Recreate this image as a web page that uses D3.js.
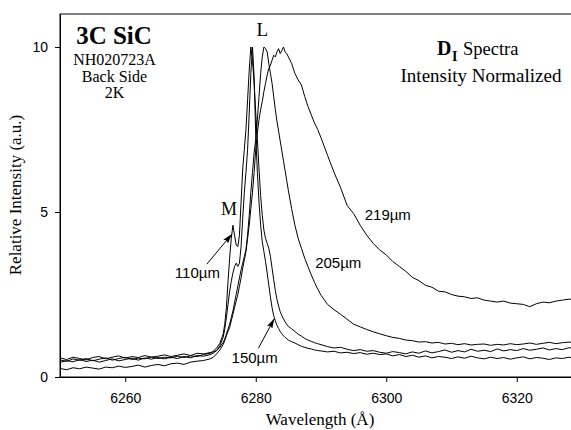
<!DOCTYPE html>
<html lang="en">
<head>
  <meta charset="utf-8">
  <title>3C SiC D_I spectra</title>
  <script src="https://d3js.org/d3.v7.min.js"></script>
  <style>
    body { margin: 0; background: #fff; }
  </style>
</head>
<body>
<script>
// wavelength grid (Angstrom), finer around the peaks
const wavelength = [
  6250, 6251, 6252, 6253, 6254, 6255, 6256, 6257, 6258, 6259, 6260, 6261,
  6262, 6263, 6264, 6265, 6266, 6267, 6268, 6269, 6270, 6271, 6272, 6273,
  6273.5, 6274, 6274.5, 6275,
  6275.25, 6275.5, 6275.75, 6276, 6276.25, 6276.5, 6276.75, 6277, 6277.25, 6277.5,
  6277.75, 6278, 6278.25, 6278.5, 6278.75, 6279, 6279.25, 6279.5, 6279.75, 6280,
  6280.25, 6280.5, 6280.75, 6281, 6281.25, 6281.5, 6281.75, 6282, 6282.25, 6282.5,
  6282.75, 6283, 6283.25, 6283.5, 6283.75, 6284, 6284.25, 6284.5, 6284.75, 6285,
  6285.5, 6286, 6286.5, 6287, 6287.5, 6288, 6288.5, 6289, 6289.5, 6290,
  6291, 6292, 6293, 6294, 6295, 6296, 6297, 6298, 6299, 6300,
  6301, 6302, 6303, 6304, 6305, 6306, 6307, 6308, 6309, 6310,
  6311, 6312, 6313, 6314, 6315, 6316, 6317, 6318, 6319, 6320,
  6321, 6322, 6323, 6324, 6325, 6326, 6327, 6328, 6329, 6330
];

const int110 = [
  0.52, 0.47, 0.55, 0.5, 0.56, 0.49, 0.54, 0.58, 0.51, 0.56, 0.6, 0.53,
  0.57, 0.55, 0.61, 0.56, 0.6, 0.58, 0.63, 0.59, 0.64, 0.62, 0.68, 0.72,
  0.78, 0.88, 1.02, 1.3,
  1.6, 2.1, 2.9, 3.6, 4.2, 4.6, 4.3, 4.0, 3.95, 4.3,
  5.3, 6.3, 6.9, 7.5, 8.4, 9.3, 10.0, 9.6, 8.9, 8.0,
  7.2, 6.3, 5.5, 4.9, 4.45, 4.2, 4.05, 3.9, 3.65, 3.3,
  2.95, 2.62, 2.35, 2.15, 1.98, 1.86, 1.76, 1.67, 1.6, 1.53,
  1.46, 1.38, 1.3, 1.24, 1.17, 1.12, 1.08, 1.04, 1.01, 0.98,
  0.92, 0.88, 0.9, 0.84, 0.8, 0.83, 0.78, 0.8, 0.75, 0.72,
  0.77, 0.74, 0.7, 0.76, 0.72, 0.79, 0.73, 0.77, 0.82, 0.75,
  0.8, 0.76, 0.84, 0.78, 0.81, 0.77, 0.85, 0.79, 0.83, 0.8,
  0.86, 0.81, 0.84, 0.88, 0.82, 0.86, 0.83, 0.89, 0.85, 0.87
];

const int150 = [
  0.44, 0.5, 0.46, 0.53, 0.47, 0.51, 0.45, 0.5, 0.55, 0.49, 0.53, 0.57,
  0.51, 0.58, 0.54, 0.59, 0.55, 0.6, 0.56, 0.62, 0.58, 0.65, 0.63, 0.68,
  0.72, 0.8, 0.95, 1.2,
  1.45, 1.8, 2.2, 2.6, 2.9, 3.15, 3.35, 3.45, 3.35, 3.45,
  3.95, 4.8, 5.6, 6.2, 6.9, 8.0, 9.2, 10.0, 9.1, 7.3,
  6.2, 5.3, 4.6, 4.1, 3.8, 3.5, 3.15, 2.78, 2.42, 2.1,
  1.86, 1.7, 1.57, 1.47, 1.38, 1.31, 1.25, 1.2, 1.16, 1.12,
  1.07, 1.03, 0.98, 0.93, 0.9, 0.87, 0.85, 0.82, 0.8, 0.79,
  0.76, 0.78, 0.73, 0.75, 0.71, 0.74, 0.69, 0.72, 0.68, 0.7,
  0.64, 0.68, 0.62, 0.66, 0.6, 0.64, 0.58, 0.62, 0.6, 0.56,
  0.61, 0.57, 0.63, 0.58, 0.55, 0.6, 0.56, 0.59, 0.54, 0.58,
  0.61, 0.55, 0.59, 0.57, 0.53, 0.58, 0.56, 0.6, 0.55, 0.58
];

const int205 = [
  0.58, 0.53, 0.6, 0.56, 0.52, 0.59, 0.62, 0.55, 0.6, 0.64, 0.57, 0.62,
  0.59, 0.65, 0.6, 0.63, 0.67, 0.62, 0.66, 0.7, 0.65, 0.72, 0.7, 0.74,
  0.76, 0.8, 0.9, 1.05,
  1.15, 1.3, 1.45, 1.6, 1.8, 2.0, 2.25, 2.5, 2.75, 3.0,
  3.25, 3.45, 3.65, 3.85, 4.3, 4.9, 5.6, 6.2, 6.8, 7.2,
  7.8, 8.5, 9.2, 9.7, 10.0, 9.95, 9.85, 9.5, 9.2, 8.9,
  8.5, 8.1, 7.75, 7.45, 7.15, 6.85, 6.55, 6.25, 5.95, 5.65,
  5.1, 4.6, 4.2, 3.9, 3.6, 3.35, 3.1, 2.87, 2.66, 2.48,
  2.2, 2.04, 1.9, 1.75, 1.6, 1.52, 1.44, 1.37, 1.31, 1.25,
  1.2, 1.17, 1.12, 1.1, 1.06, 1.07, 1.03, 1.05, 1.0, 1.02,
  0.98, 1.01, 0.97, 0.99, 1.0, 0.96, 0.99, 0.97, 1.01, 0.98,
  1.0, 1.03, 0.99, 1.02, 1.05, 1.01, 1.04, 1.06, 1.03, 1.07
];

const int219 = [
  0.26, 0.22, 0.28, 0.25, 0.3, 0.27, 0.24, 0.3, 0.28, 0.33, 0.29, 0.32,
  0.36, 0.3, 0.35, 0.38, 0.34, 0.4, 0.42, 0.38, 0.45, 0.48, 0.5, 0.55,
  0.6, 0.7, 0.82, 0.98,
  1.1, 1.25, 1.38, 1.5, 1.7, 1.9, 2.1, 2.3, 2.5, 2.75,
  3.0, 3.3, 3.55, 3.8, 4.2, 4.6, 5.1, 5.6, 6.2, 6.9,
  7.4, 7.8, 8.1, 8.35, 8.65, 8.9, 9.15, 9.35, 9.45, 9.6,
  9.75, 9.7, 9.85, 9.95, 9.8, 9.9, 10.0, 9.85, 9.8, 9.7,
  9.5, 9.2, 9.0, 8.85, 8.5, 8.2, 7.95, 7.7, 7.5, 7.25,
  6.72, 6.2, 5.74, 5.2, 4.95, 4.6, 4.3, 4.05, 3.85, 3.7,
  3.5, 3.35, 3.2, 3.02, 2.92, 2.78, 2.72, 2.6, 2.58, 2.5,
  2.45, 2.43, 2.38, 2.4, 2.33, 2.3, 2.27, 2.3, 2.24, 2.22,
  2.2, 2.13, 2.22, 2.27, 2.25, 2.3, 2.33, 2.36, 2.34, 2.38
];

const xTicks = [6260, 6280, 6300, 6320];
const yTicks = [0, 5, 10];

// curve labels and arrows, in data coordinates
const curveLabels = [
  { text: "110\u00b5m", wl: 6267.6, v: 3.0 },
  { text: "150\u00b5m", wl: 6276.3, v: 0.42 },
  { text: "205\u00b5m", wl: 6289.1, v: 3.3 },
  { text: "219\u00b5m", wl: 6296.7, v: 4.76 }
];
const arrows = [
  { from: [6272.5, 3.42], to: [6276.35, 4.33] },
  { from: [6280.4, 0.87], to: [6282.85, 1.77] }
];

const W = 571, H = 430;
const serif = "'Liberation Serif', 'Times New Roman', serif";
const sans = "'Liberation Sans', Arial, sans-serif";

const x = d3.scaleLinear().domain([6250, 6330]).range([60, 582]);
const y = d3.scaleLinear().domain([0, 11]).range([377, 14]);

const svg = d3.select("body").append("svg")
  .attr("width", W)
  .attr("height", H);

svg.append("defs").append("clipPath").attr("id", "plot")
  .append("rect")
  .attr("x", x(6250)).attr("y", y(11))
  .attr("width", x(6330) - x(6250)).attr("height", y(0) - y(11));

svg.select("defs").append("marker")
  .attr("id", "head")
  .attr("viewBox", "0 0 10 6")
  .attr("refX", 10).attr("refY", 3)
  .attr("markerWidth", 10).attr("markerHeight", 6)
  .attr("markerUnits", "userSpaceOnUse")
  .attr("orient", "auto")
  .append("path")
  .attr("d", "M0,0 L10,3 L0,6 L2,3 Z")
  .attr("fill", "#000");

// frame
svg.append("rect")
  .attr("x", x(6250)).attr("y", y(11))
  .attr("width", x(6330) - x(6250)).attr("height", y(0) - y(11))
  .attr("fill", "none").attr("stroke", "#000").attr("stroke-width", 1);

// spectra
const line = d3.line()
  .x((d, i) => x(wavelength[i]))
  .y(d => y(d));

svg.append("g").attr("clip-path", "url(#plot)")
  .selectAll("path")
  .data([int219, int205, int150, int110])
  .enter()
  .append("path")
  .attr("d", line)
  .attr("fill", "none")
  .attr("stroke", "#000")
  .attr("stroke-width", 1)
  .attr("stroke-linejoin", "round");

// axes
const xAxis = svg.append("g")
  .attr("transform", "translate(0," + y(0) + ")")
  .call(d3.axisBottom(x).tickValues(xTicks).tickSize(5).tickSizeOuter(0).tickPadding(11)
    .tickFormat(d3.format("d")));
const yAxis = svg.append("g")
  .attr("transform", "translate(" + x(6250) + ",0)")
  .call(d3.axisLeft(y).tickValues(yTicks).tickSize(5).tickSizeOuter(0).tickPadding(7)
    .tickFormat(d3.format("d")));

[xAxis, yAxis].forEach(a => {
  a.selectAll("path, line").attr("stroke", "#000");
  a.selectAll("text")
    .attr("fill", "#000")
    .style("font-family", sans)
    .style("font-size", "14px");
});

// axis titles
svg.append("text")
  .attr("x", 320).attr("y", 425)
  .attr("text-anchor", "middle")
  .style("font-family", serif).style("font-size", "17px")
  .text("Wavelength (\u00c5)");

svg.append("text")
  .attr("transform", "translate(21,195) rotate(-90)")
  .attr("text-anchor", "middle")
  .style("font-family", serif).style("font-size", "17px")
  .text("Relative Intensity (a.u.)");

// sample block, top left
svg.append("text")
  .attr("x", 114).attr("y", 44)
  .attr("text-anchor", "middle")
  .style("font-family", serif).style("font-size", "25px").style("font-weight", "bold")
  .text("3C SiC");

["NH020723A", "Back Side", "2K"].forEach((t, i) => {
  svg.append("text")
    .attr("x", 114.5).attr("y", 65 + i * 16.5)
    .attr("text-anchor", "middle")
    .style("font-family", serif).style("font-size", "16px")
    .text(t);
});

// top right title
const dTitle = svg.append("text")
  .attr("y", 55)
  .style("font-family", serif);
dTitle.append("tspan").attr("x", 437)
  .style("font-size", "20px").style("font-weight", "bold").text("D");
dTitle.append("tspan").attr("x", 452).attr("dy", 6)
  .style("font-size", "14px").style("font-weight", "bold").text("I");
dTitle.append("tspan").attr("x", 463).attr("dy", -6)
  .style("font-size", "18.5px").text("Spectra");

svg.append("text")
  .attr("x", 481).attr("y", 82)
  .attr("text-anchor", "middle")
  .style("font-family", serif).style("font-size", "19px")
  .text("Intensity Normalized");

// peak markers
svg.append("text")
  .attr("x", x(6281)).attr("y", y(10.33))
  .attr("text-anchor", "middle")
  .style("font-family", serif).style("font-size", "19px")
  .text("L");
svg.append("text")
  .attr("x", x(6275.9)).attr("y", y(4.91))
  .attr("text-anchor", "middle")
  .style("font-family", serif).style("font-size", "18px")
  .text("M");

svg.selectAll(".clabel")
  .data(curveLabels)
  .enter()
  .append("text")
  .attr("class", "clabel")
  .attr("x", d => x(d.wl))
  .attr("y", d => y(d.v))
  .style("font-family", sans).style("font-size", "15px")
  .text(d => d.text);

svg.selectAll(".arrow")
  .data(arrows)
  .enter()
  .append("line")
  .attr("class", "arrow")
  .attr("x1", d => x(d.from[0])).attr("y1", d => y(d.from[1]))
  .attr("x2", d => x(d.to[0])).attr("y2", d => y(d.to[1]))
  .attr("stroke", "#000").attr("stroke-width", 1)
  .attr("marker-end", "url(#head)");
</script>
</body>
</html>
